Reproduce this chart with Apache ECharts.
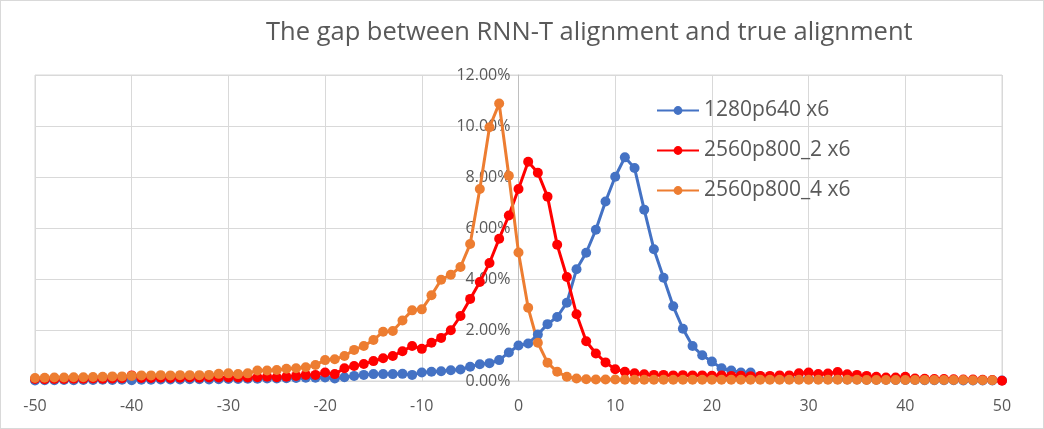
<!DOCTYPE html>
<html>
<head>
<meta charset="utf-8">
<script src="https://cdn.jsdelivr.net/npm/echarts@6/dist/echarts.min.js"></script>
<style>
html,body{margin:0;padding:0;background:#fff;}
#wrap{position:relative;width:1044px;height:429px;}
#chart{position:absolute;left:0;top:0;width:1044px;height:429px;}
#frame{position:absolute;left:0;top:0;width:1044px;height:429px;box-sizing:border-box;border:1px solid #d9d9d9;pointer-events:none;}
</style>
</head>
<body>
<div id="wrap"><div id="chart"></div><div id="frame"></div></div>
<script>
const titleText = 'The gap between RNN-T alignment and true alignment';
const seriesNames = ['1280p640 x6', '2560p800_2 x6', '2560p800_4 x6'];
const gapOffsets = [-50,-49,-48,-47,-46,-45,-44,-43,-42,-41,-40,-39,-38,-37,-36,-35,-34,-33,-32,-31,-30,-29,-28,-27,-26,-25,-24,-23,-22,-21,-20,-19,-18,-17,-16,-15,-14,-13,-12,-11,-10,-9,-8,-7,-6,-5,-4,-3,-2,-1,0,1,2,3,4,5,6,7,8,9,10,11,12,13,14,15,16,17,18,19,20,21,22,23,24,25,26,27,28,29,30,31,32,33,34,35,36,37,38,39,40,41,42,43,44,45,46,47,48,49,50];
// percentages
const blue = [0.02,0.03,0.03,0.04,0.03,0.04,0.04,0.05,0.04,0.05,0.03,0.05,0.05,0.06,0.06,0.06,0.07,0.07,0.06,0.07,0.08,0.08,0.09,0.09,0.10,0.10,0.11,0.12,0.13,0.13,0.14,0.10,0.15,0.20,0.24,0.27,0.27,0.27,0.28,0.24,0.33,0.36,0.38,0.42,0.45,0.56,0.66,0.70,0.82,1.12,1.39,1.47,1.82,2.23,2.51,3.07,4.38,5.03,5.93,7.04,8.01,8.77,8.35,6.72,5.17,4.05,2.93,2.05,1.37,1.01,0.76,0.50,0.41,0.33,0.33,0.18,0.14,0.11,0.10,0.09,0.08,0.08,0.07,0.07,0.06,0.06,0.05,0.05,0.05,0.04,0.04,0.04,0.03,0.03,0.03,0.03,0.02,0.02,0.02,0.02,0.02];
const red = [0.08,0.07,0.08,0.08,0.09,0.09,0.10,0.09,0.10,0.11,0.22,0.12,0.12,0.13,0.12,0.13,0.14,0.13,0.14,0.14,0.14,0.14,0.14,0.15,0.17,0.15,0.17,0.20,0.24,0.24,0.33,0.27,0.50,0.59,0.67,0.78,0.89,0.98,1.17,1.37,1.26,1.50,1.69,1.99,2.55,3.22,3.88,4.63,5.58,6.49,7.53,8.60,8.17,7.23,5.34,4.08,2.62,1.56,1.08,0.73,0.46,0.36,0.30,0.26,0.24,0.24,0.22,0.23,0.22,0.22,0.21,0.22,0.20,0.21,0.19,0.20,0.20,0.22,0.22,0.30,0.33,0.27,0.29,0.35,0.26,0.24,0.20,0.17,0.14,0.14,0.17,0.10,0.09,0.08,0.08,0.07,0.06,0.06,0.05,0.04,0.01];
const orange = [0.12,0.13,0.14,0.14,0.15,0.15,0.16,0.17,0.18,0.18,0.20,0.22,0.22,0.23,0.22,0.23,0.23,0.23,0.24,0.28,0.30,0.27,0.30,0.41,0.41,0.43,0.48,0.50,0.54,0.63,0.82,0.85,0.98,1.22,1.37,1.61,1.93,1.96,2.37,2.77,2.81,3.36,3.97,4.17,4.47,5.37,7.53,9.95,10.88,8.05,5.04,2.87,1.50,0.72,0.36,0.17,0.10,0.07,0.06,0.06,0.06,0.05,0.05,0.05,0.05,0.05,0.05,0.05,0.05,0.05,0.05,0.05,0.05,0.05,0.05,0.05,0.05,0.05,0.05,0.05,0.05,0.05,0.05,0.05,0.05,0.05,0.04,0.04,0.04,0.04,0.04,0.04,0.04,0.04,0.04,0.04,0.04,0.03,0.03,0.03];
const colors = ['#4472C4', '#FF0000', '#ED7D31'];

function pairs(vals){ return vals.map((v,i)=>[gapOffsets[i], v]); }

const FONT = '"Open Sans", sans-serif';
const chart = echarts.init(document.getElementById('chart'));
const option = {
  animation: false,
  title: { text: titleText, left: 261, top: 15,
    textStyle: { fontFamily: FONT, fontSize: 25.5, fontWeight: 'normal', color: '#595959' } },
  legend: { orient: 'vertical', left: 656, top: 100, padding: 0, itemWidth: 42, itemHeight: 11, itemGap: 19,
    data: seriesNames,
    textStyle: { fontFamily: FONT, fontSize: 21, color: '#595959' } },
  grid: { left: 35, right: 42, top: 75, bottom: 48, show: true, borderColor: '#d9d9d9', borderWidth: 1 },
  xAxis: { type: 'value', min: -50, max: 50, interval: 10,
    axisLine: { onZero: false, lineStyle: { color: '#d9d9d9' } },
    axisTick: { show: false },
    splitLine: { show: true, lineStyle: { color: '#d9d9d9', width: 1 } },
    axisLabel: { margin: 17, fontFamily: FONT, fontSize: 16, color: '#595959' } },
  yAxis: { type: 'value', min: 0, max: 12, interval: 2,
    axisLine: { show: true, onZero: true, lineStyle: { color: '#bfbfbf' } },
    axisTick: { show: false },
    splitLine: { show: true, lineStyle: { color: '#d9d9d9', width: 1 } },
    axisLabel: { margin: -2, fontFamily: FONT, fontSize: 16, color: '#595959',
      formatter: v => v.toFixed(2) + '%' } },
  series: [blue, red, orange].map((vals, k) => ({
    name: seriesNames[k], type: 'line', data: pairs(vals),
    symbol: 'circle', symbolSize: 10, showSymbol: true,
    itemStyle: { color: colors[k] },
    lineStyle: { color: colors[k], width: 3 }
  }))
};
chart.setOption(option);
// place the value axis at the x = 0 position (Excel "vertical axis crosses at 0")
const zeroPx = chart.convertToPixel({ xAxisIndex: 0 }, 0);
const leftPx = chart.convertToPixel({ xAxisIndex: 0 }, -50);
chart.setOption({ yAxis: { offset: -(zeroPx - leftPx) } });
</script>
</body>
</html>
